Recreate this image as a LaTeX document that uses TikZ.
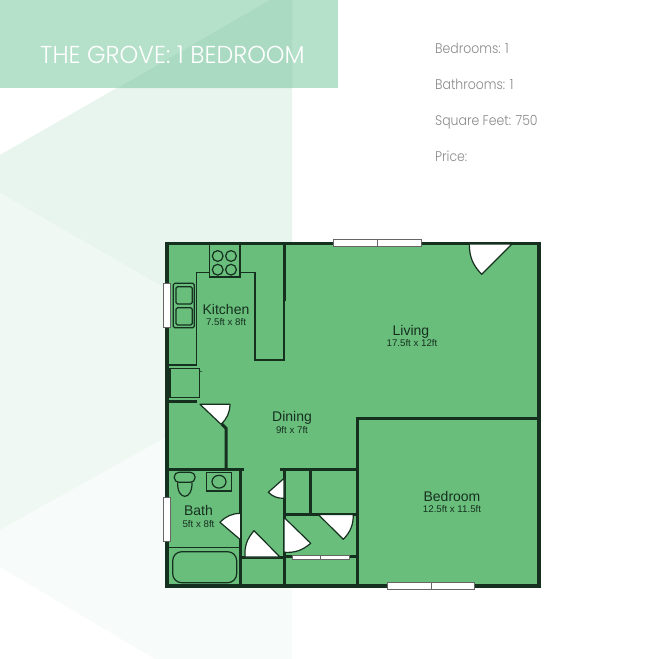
\documentclass[tikz,border=0pt]{standalone}
\usepackage{fontspec}
\usepackage{xcolor}
\setmainfont{Liberation Sans}
\newfontfamily\geofont{Poppins Light}
\usetikzlibrary{calc}
\definecolor{plangreen}{HTML}{69BE7C}
\definecolor{wallink}{HTML}{16301F}
\definecolor{bandlight}{HTML}{B5E0CA}
\definecolor{banddark}{HTML}{ABDAC2}
\definecolor{panela}{HTML}{E8F5EF}
\definecolor{panelb}{HTML}{F0F8F4}
\definecolor{panelc}{HTML}{F7FBF9}
\definecolor{infotext}{HTML}{8A8A8A}
\tikzset{
  wall/.style={draw=wallink, line width=3pt, line cap=butt, line join=miter},
  thin wall/.style={draw=wallink, line width=1.5pt, line join=miter},
  fixture/.style={draw=wallink, line width=1.2pt},
  door/.style={draw=wallink, fill=white, line width=1.2pt, line join=round},
  win/.style={draw=black!60, fill=white, line width=0.8pt},
  room/.style={text=wallink, font=\fontsize{14}{14}\selectfont, inner sep=0pt, anchor=base},
  size/.style={text=wallink, font=\fontsize{9.7}{10}\selectfont, inner sep=0pt, anchor=base},
  info/.style={text=infotext, font=\geofont\fontsize{14}{14}\selectfont, anchor=base west, inner sep=0pt, xscale=0.89},
}
\begin{document}
\begin{tikzpicture}[x=1pt,y=-1pt]
  \useasboundingbox (0,0) rectangle (656,659);
  \fill[white] (0,0) rectangle (656,659);

  % background panel
  \fill[panela] (0,155) -- (270,0) -- (292,0) -- (292,362) -- (0,193) -- cycle;
  \fill[panelb] (0,193) -- (292,362) -- (292,367) -- (0,530) -- cycle;
  \fill[panelc] (0,530) -- (292,367) -- (292,659) -- (155,659) -- (0,567) -- cycle;

  % title band
  \fill[bandlight] (0,0) rectangle (338,88);
  \fill[banddark] (118,88) -- (270,0) -- (292,0) -- (292,88) -- cycle;
  \node[text=white, font=\geofont\fontsize{24.5}{24.5}\selectfont, anchor=base west, inner sep=0pt, xscale=0.97] (title) at (40,63.3) {THE GROVE: 1 BEDROOM};

  \node[info] (beds) at (435,53) {Bedrooms: 1};
  \node[info] (baths) at (435,89) {Bathrooms: 1};
  \node[info] (feet) at (435,125) {Square Feet: 750};
  \node[info] (price) at (435,161) {Price:};

  % floor
  \fill[plangreen] (167,243.5) rectangle (539,586);

  % counters
  \draw[thin wall] (167,365) -- (196.7,365) -- (196.7,272.3) -- (209.5,272.3);
  \draw[thin wall] (240,272.3) -- (255,272.3) -- (255,360) -- (284,360) -- (284,300);
  \draw[fixture] (170,368.3) rectangle (199.3,397.3);
  \draw[fixture, line width=0.6pt] (199.3,371) -- (201.7,371.6);

  % stove
  \draw[thin wall, fill=plangreen] (209.5,243.5) rectangle (240,277);
  \foreach \cx in {217.7,231}
    \foreach \cy in {256,269.7}
      \draw[fixture] (\cx,\cy) circle (5.4);

  % sink
  \draw[fixture, rounded corners=1.5pt] (173.3,283.3) rectangle (194.3,327.7);
  \draw[fixture, rounded corners=1.5pt] (176,286.7) rectangle (192.3,304);
  \draw[fixture, rounded corners=1.5pt] (176,307.7) rectangle (192.3,325);

  % bath fixtures
  \draw[fixture, rounded corners=4.5pt] (174.3,472.3) rectangle (195,482.3);
  \draw[fixture] (177.6,482.3) .. controls (177,501) and (192.6,501) .. (192,482.3);
  \draw[thin wall] (206.7,472.7) rectangle (231.7,491);
  \draw[fixture] (219,481.7) ellipse (7 and 6.4);
  \draw[fixture] (167,547.7) -- (240.7,547.7);
  \draw[fixture, rounded corners=9pt] (172.7,551.7) rectangle (236.7,582.7);

  % inner walls
  \draw[wall] (167,401) -- (197,401);
  \draw[wall] (221.7,424) -- (226,428.3) -- (226,469.3);
  \draw[wall] (167,469.3) -- (244,469.3);
  \draw[wall] (240.7,469.3) -- (240.7,586);
  \draw[wall] (240.7,557.7) -- (284,557.7);
  \draw[wall] (284,243.5) -- (284,300.7);
  \draw[wall] (284,469.3) -- (284,586);
  \draw[wall] (280,469.3) -- (357,469.3);
  \draw[wall] (310.7,469.3) -- (310.7,514);
  \draw[wall] (284,514) -- (357,514);
  \draw[wall] (284,556.7) -- (357,556.7);
  \draw[wall] (357,586) -- (357,418) -- (539,418);

  % outer walls
  \draw[wall, line width=3.2pt] (167,243.5) rectangle (539,586);

  % windows
  \draw[win] (333.5,239.5) rectangle (421.3,246.7);
  \draw[win] (377.3,239.5) -- (377.3,246.7);
  \draw[win] (387,582.5) rectangle (474.5,589.7);
  \draw[win] (431,582.5) -- (431,589.7);
  \draw[win] (163.3,283.3) rectangle (170.7,327.7);
  \draw[win] (163.3,497.3) rectangle (170.7,541);
  \draw[win] (292.3,555) rectangle (349,559.3);
  \draw[win] (320.7,555) -- (320.7,559.3);

  % doors
  \draw[door] (512,244) -- (481.7,274.3) to[bend left=22] (469.3,244) -- cycle;
  \draw[door] (200,404.3) -- (221,424.3) to[bend right=22] (230,404.3) -- cycle;
  \draw[door] (240.7,540) -- (220,522.3) to[bend left=22] (240.7,513.3) -- cycle;
  \draw[door] (280,557) -- (254,530.7) to[bend right=22] (245,557) -- cycle;
  \draw[door] (284,517.3) -- (310.7,543.3) to[bend left=22] (284,552.3) -- cycle;
  \draw[door] (284,478.3) -- (268.3,492.3) to[bend right=22] (284,498.3) -- cycle;
  \draw[door] (318.3,514.5) -- (343.3,539.3) to[bend right=22] (353.3,514.5) -- cycle;

  % labels
  \node[room] (kitchen) at (226,314) {Kitchen};
  \node[size] (kitchensize) at (226,325) {7.5ft x 8ft};
  \node[room] (living) at (411,335) {Living};
  \node[size] (livingsize) at (412,346) {17.5ft x 12ft};
  \node[room] (dining) at (292,421.7) {Dining};
  \node[size] (diningsize) at (292,433) {9ft x 7ft};
  \node[room] (bedroom) at (452,501) {Bedroom};
  \node[size] (bedroomsize) at (452,512) {12.5ft x 11.5ft};
  \node[room] (bath) at (198.5,515.7) {Bath};
  \node[size] (bathsize) at (198.5,527) {5ft x 8ft};
\end{tikzpicture}
\end{document}
